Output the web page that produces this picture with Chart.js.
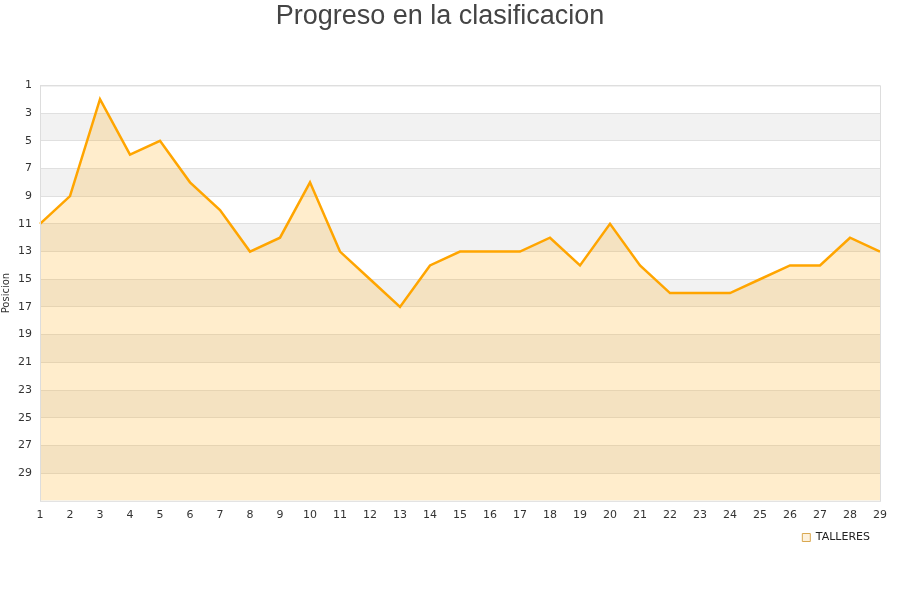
<!DOCTYPE html>
<html>
<head>
<meta charset="utf-8">
<script src="https://cdn.jsdelivr.net/npm/chart.js@4"></script>
<style>
  html, body { margin: 0; padding: 0; background: #fff; }
  #wrap { width: 900px; height: 600px; }
</style>
</head>
<body>
<div id="wrap"><canvas id="posChart"></canvas></div>
<script>
// jornadas y posicion del equipo
const jornadas = [1, 2, 3, 4, 5, 6, 7, 8, 9, 10, 11, 12, 13, 14, 15, 16, 17, 18, 19, 20, 21, 22, 23, 24, 25, 26, 27, 28, 29];
const posiciones = [11, 9, 2, 6, 5, 8, 10, 13, 12, 8, 13, 15, 17, 14, 13, 13, 13, 12, 14, 11, 14, 16, 16, 16, 15, 14, 14, 12, 13];
const posMin = 1;
const posMax = 31;
const bandStep = 2;

// franjas grises alternas detras de la linea
const bandsPlugin = {
    id: 'bands',
    beforeDraw(chart) {
        const ctx = chart.ctx;
        const area = chart.chartArea;
        const y = chart.scales.y;
        ctx.save();
        ctx.fillStyle = '#f2f2f2';
        for (let v = posMin + bandStep; v < posMax; v += bandStep * 2) {
            const a = y.getPixelForValue(v);
            const b = y.getPixelForValue(Math.min(v + bandStep, posMax));
            ctx.fillRect(area.left, a, area.right - area.left, b - a);
        }
        ctx.restore();
    },
    afterDraw(chart) {
        const ctx = chart.ctx;
        const area = chart.chartArea;
        ctx.save();
        ctx.strokeStyle = '#dddddd';
        ctx.lineWidth = 1;
        ctx.strokeRect(area.left + 0.5, area.top + 0.5, area.right - area.left, area.bottom - area.top);
        ctx.restore();
    }
};

const canvas = document.getElementById('posChart').getContext('2d');
new Chart(canvas, {
    type: 'line',
    data: {
        labels: jornadas,
        datasets: [{
            label: 'TALLERES',
            data: posiciones,
            borderColor: '#ffa500',
            backgroundColor: 'rgba(255, 165, 0, 0.2)',
            borderWidth: 2.5,
            pointRadius: 0,
            tension: 0,
            fill: 'start'
        }]
    },
    options: {
        responsive: true,
        maintainAspectRatio: false,
        animation: false,
        layout: {
            padding: { left: 0, right: 20, top: 0, bottom: 47 }
        },
        plugins: {
            title: {
                display: true,
                text: 'Progreso en la clasificacion',
                color: '#444444',
                font: { family: 'Liberation Sans', size: 27, weight: 'normal' },
                padding: { top: 0, bottom: 53 }
            },
            legend: {
                position: 'bottom',
                align: 'end',
                labels: {
                    boxWidth: 8,
                    boxHeight: 8,
                    color: '#222222',
                    font: { family: 'DejaVu Sans', size: 11 },
                    padding: 10,
                    generateLabels(chart) {
                        const items = Chart.defaults.plugins.legend.labels.generateLabels(chart);
                        items.forEach(it => {
                            it.lineWidth = 1;
                            it.strokeStyle = '#d9a850';
                            it.fillStyle = '#fdf1dc';
                        });
                        return items;
                    }
                }
            },
            tooltip: { enabled: false }
        },
        scales: {
            x: {
                offset: false,
                grid: { display: false },
                border: { display: false },
                ticks: {
                    autoSkip: false,
                    maxRotation: 0,
                    color: '#333333',
                    padding: 0,
                    font: { family: 'DejaVu Sans', size: 11 }
                }
            },
            y: {
                reverse: true,
                min: posMin,
                max: posMax,
                afterBuildTicks(scale) {
                    scale.ticks = scale.ticks.filter(t => t.value < posMax);
                },
                afterFit(scale) {
                    scale.width = 40;
                },
                grid: { color: '#e0e0e0', drawTicks: false },
                border: { display: false },
                ticks: {
                    stepSize: bandStep,
                    color: '#333333',
                    padding: 8,
                    font: { family: 'DejaVu Sans', size: 11 }
                },
                title: {
                    display: true,
                    text: 'Posicion',
                    color: '#333333',
                    padding: 0,
                    font: { family: 'DejaVu Sans', size: 10 }
                }
            }
        }
    },
    plugins: [bandsPlugin]
});
</script>
</body>
</html>
